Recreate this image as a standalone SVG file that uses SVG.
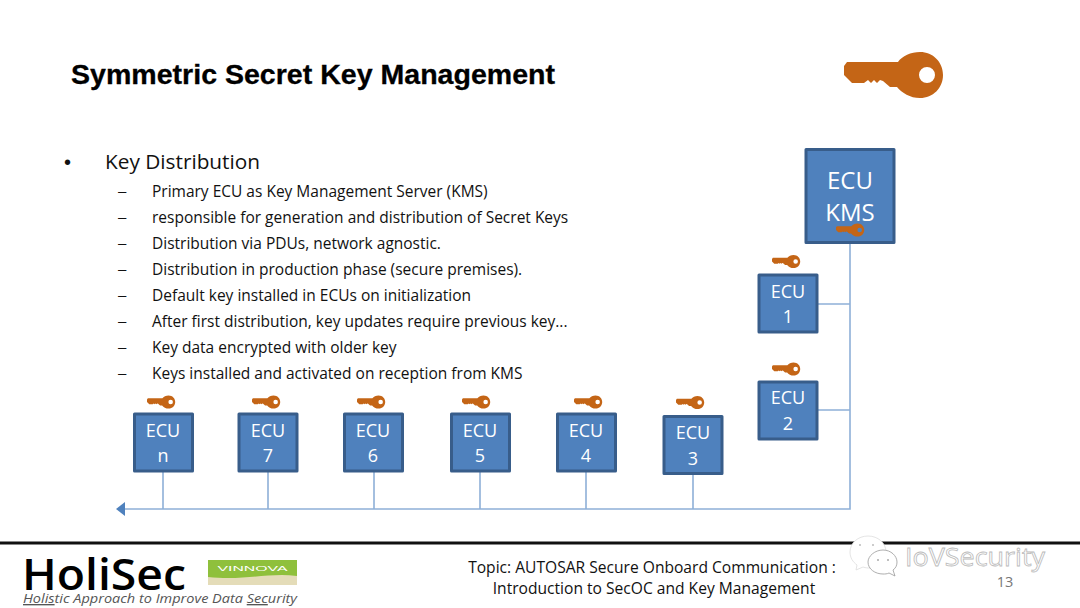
<svg xmlns="http://www.w3.org/2000/svg" width="1080" height="608" viewBox="0 0 1080 608">
<style>
.sans{font-family:"Open Sans","Noto Sans",sans-serif}
.box{fill:#4f81bd;stroke:#385d8a;stroke-width:3;stroke-linejoin:round}
.lbl{font-family:"Open Sans","Noto Sans",sans-serif;font-size:18px;fill:#fff;text-anchor:middle}
.link{fill:none;stroke:#8eb0d8;stroke-width:1.6}
.b{font-family:"Open Sans","Noto Sans",sans-serif;font-size:15.5px;fill:#111}
</style>
<defs>
<path id="key" fill-rule="evenodd" fill="#c46516" d="M3 10H54C58 4 67 0 76 0C89 0 99 10 99 23C99 36 89 46 76 46C66 46 58 41 53 35L46 35L39 29L36 28L33 31L30 28L27 31L24 28L20 31H8L0 23V14ZM83 15A8 8 0 1 0 83.01 31A8 8 0 1 0 83 15Z"/>
</defs>
<rect width="1080" height="608" fill="#fff"/>
<text x="71" y="84" font-family="Liberation Sans, Arial, sans-serif" font-size="28" font-weight="700" fill="#000" stroke="#000" stroke-width=".3" textLength="484" lengthAdjust="spacingAndGlyphs">Symmetric Secret Key Management</text>
<use href="#key" transform="translate(844 52)"/>
<g id="bullets">
<text x="64" y="169" font-family="Liberation Sans,sans-serif" font-size="20" fill="#111">•</text>
<text x="105" y="169" class="sans" font-size="20.800" fill="#111">Key Distribution</text>
<g font-family="Liberation Sans,sans-serif" font-size="15" fill="#111">
<text x="118" y="196">–</text><text x="118" y="222">–</text><text x="118" y="248">–</text><text x="118" y="274">–</text><text x="118" y="300">–</text><text x="118" y="326">–</text><text x="118" y="352">–</text><text x="118" y="378">–</text>
</g>
<text class="b" x="152" y="196.500">Primary ECU as Key Management Server (KMS)</text>
<text class="b" x="152" y="222.500">responsible for generation and distribution of Secret Keys</text>
<text class="b" x="152" y="248.500">Distribution via PDUs, network agnostic.</text>
<text class="b" x="152" y="274.500">Distribution in production phase (secure premises).</text>
<text class="b" x="152" y="300.500">Default key installed in ECUs on initialization</text>
<text class="b" x="152" y="326.500">After first distribution, key updates require previous key...</text>
<text class="b" x="152" y="352.500">Key data encrypted with older key</text>
<text class="b" x="152" y="378.500">Keys installed and activated on reception from KMS</text>
</g>
<g id="connectors">
<path class="link" d="M850 243V509H124"/>
<path class="link" d="M818 304H850M818 410H850M163 472V509M268 472V509M374 472V509M480 472V509M586 472V509M693 474V509"/>
<path d="M116 509L125 502V516Z" fill="#4f81bd"/>
</g>
<g id="ecu-kms"><rect class="box" x="806" y="149.500" width="88" height="93"/><text class="lbl" style="font-size:24px" x="850" y="189">ECU</text><text class="lbl" style="font-size:24px" x="850" y="221">KMS</text><use href="#key" transform="translate(836 223.500) scale(.285)"/></g>
<g id="ecu-1"><rect class="box" x="759" y="275" width="58" height="57"/><text class="lbl" x="788" y="298">ECU</text><text class="lbl" x="788" y="323">1</text><use href="#key" transform="translate(772 255) scale(.285)"/></g>
<g id="ecu-2"><rect class="box" x="759" y="382" width="58" height="57"/><text class="lbl" x="788" y="404">ECU</text><text class="lbl" x="788" y="430">2</text><use href="#key" transform="translate(772 362.500) scale(.285)"/></g>
<g id="ecu-3"><rect class="box" x="664" y="416.500" width="58" height="57"/><text class="lbl" x="693" y="439">ECU</text><text class="lbl" x="693" y="465">3</text><use href="#key" transform="translate(676 396) scale(.285)"/></g>
<g id="ecu-4"><rect class="box" x="557.500" y="414" width="58" height="57"/><text class="lbl" x="586" y="437">ECU</text><text class="lbl" x="586" y="462">4</text><use href="#key" transform="translate(574 395.500) scale(.285)"/></g>
<g id="ecu-5"><rect class="box" x="451.500" y="414" width="58" height="57"/><text class="lbl" x="480" y="437">ECU</text><text class="lbl" x="480" y="462">5</text><use href="#key" transform="translate(462 395.500) scale(.285)"/></g>
<g id="ecu-6"><rect class="box" x="344.500" y="414" width="58" height="57"/><text class="lbl" x="373" y="437">ECU</text><text class="lbl" x="373" y="462">6</text><use href="#key" transform="translate(357 395.500) scale(.285)"/></g>
<g id="ecu-7"><rect class="box" x="239" y="414" width="58" height="57"/><text class="lbl" x="268" y="437">ECU</text><text class="lbl" x="268" y="462">7</text><use href="#key" transform="translate(252 395.500) scale(.285)"/></g>
<g id="ecu-n"><rect class="box" x="134.500" y="414" width="58" height="57"/><text class="lbl" x="163" y="437">ECU</text><text class="lbl" x="163" y="462">n</text><use href="#key" transform="translate(147 395.500) scale(.285)"/></g>
<g id="footer">
<rect x="0" y="541.500" width="1080" height="3" fill="#111"/>
<text x="22" y="590" font-family="Open Sans,sans-serif" font-size="44" font-weight="600" fill="#000" textLength="164" lengthAdjust="spacingAndGlyphs">HoliSec</text>
<text x="23" y="603" font-family="Open Sans,sans-serif" font-size="13.500" font-style="italic" fill="#555" textLength="274" lengthAdjust="spacingAndGlyphs"><tspan text-decoration="underline">Holis</tspan>tic Approach to Improve Data <tspan text-decoration="underline">Sec</tspan>urity</text>
<rect x="208" y="560" width="89" height="25" fill="#e4dcb8"/>
<path d="M208 560H297V576C270 572 245 581 208 577Z" fill="#8fc03c"/>
<text x="252.500" y="571" font-family="Liberation Sans,sans-serif" font-size="8" fill="#fff" text-anchor="middle" textLength="70" lengthAdjust="spacingAndGlyphs">VINNOVA</text>
<text x="652" y="572.500" text-anchor="middle" font-family="Open Sans,sans-serif" font-size="15.600" fill="#111">Topic: AUTOSAR Secure Onboard Communication :</text>
<text x="654" y="594" text-anchor="middle" font-family="Open Sans,sans-serif" font-size="15.600" fill="#111">Introduction to SecOC and Key Management</text>
<text x="1005" y="587" text-anchor="middle" font-family="Open Sans,sans-serif" font-size="14.500" fill="#777">13</text>
</g>
<g id="watermark" fill="#fff" stroke="#bbb" stroke-width=".8">
<path d="M868 536C858 536 850 543 850 552C850 558 853 562 857 565L856 570L863 567C866 568 868 568 870 568C880 568 886 561 886 552C886 543 878 536 868 536Z" stroke="#ddd"/>
<path d="M883 550C875 550 868 556 868 562C868 569 875 574 883 574C885 574 887 574 889 573L895 576L893 570C896 568 897 565 897 562C897 556 891 550 883 550Z" stroke="#999"/>
<circle cx="878" cy="560" r="1" fill="#aaa" stroke="none"/><circle cx="888" cy="560" r="1" fill="#aaa" stroke="none"/>
<circle cx="860" cy="545" r="1" fill="#bbb" stroke="none"/><circle cx="873" cy="545" r="1" fill="#bbb" stroke="none"/>
<text x="905" y="566" font-family="Open Sans,sans-serif" font-size="26" textLength="140" lengthAdjust="spacingAndGlyphs">IoVSecurity</text>
</g>
</svg>
